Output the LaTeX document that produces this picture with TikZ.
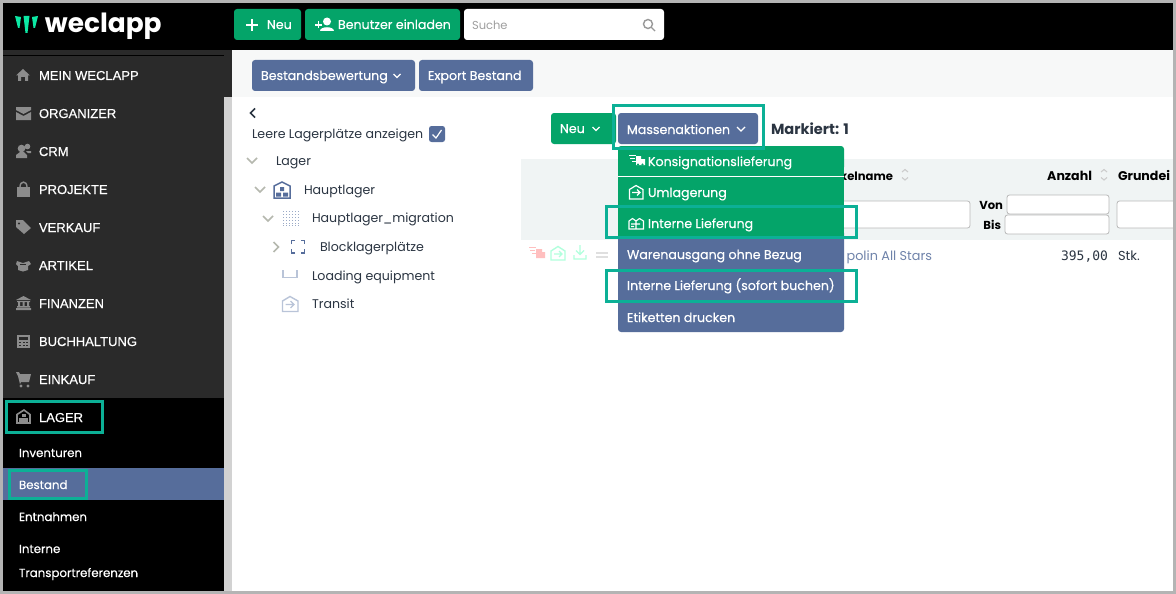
\documentclass[tikz,border=0pt]{standalone}
\usepackage{fontspec}
\setmainfont{Poppins}
\newfontfamily\uif[FakeBold=0.5]{Poppins}
\newfontfamily\capsf[FakeBold=0.35]{Liberation Sans}
\newfontfamily\logof{Poppins}
\newfontfamily\numf{DejaVu Sans Mono}
\definecolor{frame}{HTML}{B4B4B4}
\definecolor{side}{HTML}{2A2A2A}
\definecolor{wgreen}{HTML}{04A469}
\definecolor{wblue}{HTML}{566D9B}
\definecolor{hilite}{HTML}{0CB096}
\definecolor{scrollc}{HTML}{D2D2D2}
\definecolor{panel}{HTML}{F7F8F8}
\definecolor{thead}{HTML}{F0F4F4}
\definecolor{ink}{HTML}{2B3542}
\definecolor{sico}{HTML}{8C8C8C}
\definecolor{tico}{HTML}{B9C4D8}
\definecolor{chev}{HTML}{B5B8AE}
\definecolor{logoc}{HTML}{0CE8A4}
\tikzset{
  x=1pt,y=-1pt,
  txt/.style={inner sep=0pt,outer sep=0pt,anchor=base west},
  rtxt/.style={inner sep=0pt,outer sep=0pt,anchor=base east},
  capt/.style={txt,text=white,font=\capsf\fontsize{13}{13}\selectfont},
  subt/.style={txt,text=white,font=\uif\fontsize{11.8}{12}\selectfont},
  btnt/.style={txt,text=white,font=\uif\fontsize{12.6}{13}\selectfont},
  menut/.style={txt,text=white,font=\uif\fontsize{12.6}{13}\selectfont},
  treet/.style={txt,text=ink,font=\fontsize{12.6}{13}\selectfont},
  headt/.style={text=black,font=\bfseries\fontsize{12.6}{13}\selectfont},
  vbt/.style={text=black,font=\bfseries\fontsize{11.6}{13}\selectfont},
  box/.style={draw=hilite,line width=3pt},
  inp/.style={draw=gray!55,fill=white,line width=.8pt,rounded corners=2.5pt},
  chv/.style={draw=chev,line width=1.6pt},
  wchv/.style={draw=white,line width=1.4pt},
  tic/.style={draw=tico,line width=1.4pt},
  sicon/.style={fill=sico},
}
\begin{document}
\begin{tikzpicture}
\useasboundingbox (0,0) rectangle (1176,594);
\fill[white] (0,0) rectangle (1176,594);
% content panels
\fill[panel] (232,50) rectangle (1173,97);
\fill[thead] (521,159) rectangle (1173,240);
% top bar
\fill[black] (3,3) rectangle (1173,50);
% side
\fill[side] (3,50) rectangle (232,97);
\fill[side] (3,97) rectangle (224,398);
\fill[black] (3,55) rectangle (224,56);
\fill[black] (3,398) rectangle (224,591);
\fill[scrollc] (224,97) rectangle (232,591);
\fill[wblue] (3,468) rectangle (224,500);
% logo
\fill[logoc] (15,16) -- (21,17) -- (19.5,28) -- (18,28) -- cycle;
\fill[logoc] (23.5,16) -- (29.5,16) -- (27.5,33) -- (25.5,33) -- cycle;
\fill[logoc] (32,17) -- (38,16) -- (35,28) -- (33.5,28) -- cycle;
\node[txt,text=white,font=\logof\bfseries\fontsize{26.4}{26}\selectfont] (logo) at (45,33) {weclapp};
% top buttons
\fill[wgreen,rounded corners=3pt] (234,9) rectangle (301,40);
\draw[white,line width=1.6pt] (246,25) -- (258,25) (252,19) -- (252,31);
\node[btnt] (tneu) at (267,29) {Neu};
\fill[wgreen,rounded corners=3pt] (305,9) rectangle (460,40);
\draw[white,line width=1.2pt] (315,25) -- (322,25) (318.5,21.5) -- (318.5,28.5);
\fill[white] (327,21.5) circle (4);
\fill[white] (320,31) .. controls (320,26) and (334,26) .. (334,31) -- cycle;
\node[btnt] (tben) at (338,29) {Benutzer einladen};
\fill[white,rounded corners=3pt] (464,9) rectangle (664,40);
\node[txt,text=gray!75,font=\fontsize{11.5}{12}\selectfont] (such) at (472,30) {Suche};
\draw[gray!80,line width=1.4pt] (648,24) circle (4.5) (651.5,27.5) -- (655,31);
% panel buttons
\fill[wblue,rounded corners=3pt] (252,60) rectangle (415,91);
\node[btnt] (tbew) at (261,80) {Bestandsbewertung};
\draw[wchv] (393.5,74) -- (397,77.5) -- (400.5,74);
\fill[wblue,rounded corners=3pt] (419,60) rectangle (533,91);
\node[btnt] (texp) at (428,80) {Export Bestand};
% sidebar labels
\node[capt] (c1) at (39,80) {MEIN WECLAPP};
\node[capt] (c2) at (39,118) {ORGANIZER};
\node[capt] (c3) at (39,156) {CRM};
\node[capt] (c4) at (39,194) {PROJEKTE};
\node[capt] (c5) at (39,232) {VERKAUF};
\node[capt] (c6) at (39,270) {ARTIKEL};
\node[capt] (c7) at (39,308) {FINANZEN};
\node[capt] (c8) at (39,346) {BUCHHALTUNG};
\node[capt] (c9) at (39,384) {EINKAUF};
\node[capt] (c10) at (39,422) {LAGER};
\node[subt] (s1) at (19,457) {Inventuren};
\node[subt] (s2) at (19,489) {Bestand};
\node[subt] (s3) at (19,521) {Entnahmen};
\node[subt] (s4) at (19,553) {Interne};
\node[subt] (s5) at (19,577) {Transportreferenzen};
% sidebar icons
\fill[sico] (16,75.5) -- (23,69) -- (30,75.5) -- (28,75.5) -- (28,81) -- (25,81) -- (25,77) -- (21,77) -- (21,81) -- (18,81) -- (18,75.5) -- cycle;
\fill[sico] (16,107) -- (31,107) -- (31,110) -- (23.5,114) -- (16,110) -- cycle (16,112) -- (23.5,116) -- (31,112) -- (31,120) -- (16,120) -- cycle;
\fill[sico] (21.5,148.5) circle (3.8) (27.5,146.5) circle (2.8);
\fill[sico] (16,158) -- (16,155) -- (20,152) -- (24,152) -- (27,155) -- (27,158) -- cycle (26,151) -- (31,151) -- (31,153) -- (28,153) -- cycle;
\fill[sico] (17,186.5) rectangle (30,197);
\draw[sico,line width=1.4pt] (20,187) .. controls (20,180.5) and (27,180.5) .. (27,187);
\fill[sico] (16,220) -- (23,220) -- (31,228) -- (24,234) -- (16,227) -- cycle;
\fill[side] (19,223.5) circle (1.1);
\fill[sico] (17,261) -- (23,263) -- (29,261) -- (31,264) -- (28,266) -- (28,270) -- (23,271.5) -- (18,270) -- (18,266) -- (16,264) -- cycle;
\fill[side] (20,264) rectangle (26,265);
\fill[sico] (23.5,296) -- (31,300) -- (16,300) -- cycle (16,308) rectangle (31,310) (17,301) rectangle (30,302) (17,306) rectangle (30,307.5);
\fill[sico] (18,302) rectangle (20,306) (22.5,302) rectangle (24.5,306) (27,302) rectangle (29,306);
\fill[sico] (17,335) rectangle (30,348);
\fill[side] (19,337) rectangle (28,339.5);
\foreach \cx in {19,22.5,26}{\foreach \cy in {341.5,344.5}{\fill[side] (\cx,\cy) rectangle +(2,1.5);}}
\fill[sico] (16,372) -- (19,372) -- (20,374) -- (31,374) -- (29,382) -- (21,382) -- (20,384) -- (18,376) -- cycle;
\fill[sico] (21,386) circle (1.7) (28,386) circle (1.7);
\draw[sico,line width=1.6pt] (17,423) -- (17,414.5) -- (24,410) -- (30,414.5) -- (30,423) -- cycle;
\fill[sico] (19,418) rectangle (28,423);
\fill[sico] (22,413.5) rectangle (26,416.5);
% tree
\draw[draw=ink,line width=1.7pt] (255,108.5) -- (250.5,113) -- (255,117.5);
\node[treet] (leer) at (252,139) {Leere Lagerplätze anzeigen};
\fill[wblue,rounded corners=2.5pt] (429,126) rectangle (445,142);
\draw[white,line width=1.2pt] (432.5,134.5) -- (436,138) -- (441.5,130);
\draw[chv] (247,158) -- (252,163) -- (257,158);
\node[treet] (l0) at (276,165) {Lager};
\draw[chv] (255,187) -- (260,192) -- (265,187);
\draw[wblue,line width=1.5pt,fill=white] (274,198) -- (274,186) -- (282,182) -- (290,186) -- (290,198) -- cycle;
\fill[wblue] (280,187) rectangle (284,191) (276,192.5) rectangle (281,196.5) (283,192.5) rectangle (288,196.5);
\node[treet] (l1) at (304,194) {Hauptlager};
\draw[chv] (263,216) -- (268,221) -- (273,216);
\foreach \dx in {283,286,289,292,295,298}{\foreach \dy in {211,214,217,220,223,225}{\fill[tico!70!wblue] (\dx,\dy) rectangle +(1.4,1.4);}}
\node[treet] (l2) at (312,222) {Hauptlager\_migration};
\draw[chv] (273.5,242) -- (278.5,247) -- (273.5,252);
\draw[wblue,line width=1.5pt] (291.5,244) -- (291.5,240.5) -- (295,240.5) (301,240.5) -- (304.5,240.5) -- (304.5,244) (304.5,249) -- (304.5,253) -- (301,253) (295,253) -- (291.5,253) -- (291.5,249);
\node[treet] (l3) at (320,251) {Blocklagerplätze};
\draw[tic] (283,270) -- (283,277.5) -- (297,277.5) -- (297,270);
\node[treet] (l4) at (312,280) {Loading equipment};
\draw[tic] (282.5,311.5) -- (282.5,301) -- (290,296.5) -- (298,301) -- (298,311.5) -- cycle;
\draw[tic] (285.5,304.5) -- (294,304.5) (290.5,301) -- (294,304.5) -- (290.5,308);
\node[treet] (l5) at (312,308) {Transit};
% table header
\node[rtxt,text=black,font=\bfseries\fontsize{11.6}{13}\selectfont] (th1) at (893,180) {kelname};
\draw[gray!40,line width=1.1pt] (902,172) -- (905,169.5) -- (908,172) (902,177.5) -- (905,180) -- (908,177.5);
\node[headt,rtxt] (th2) at (1092,180) {Anzahl};
\draw[gray!40,line width=1.1pt] (1101,172) -- (1104,169.5) -- (1107,172) (1101,177.5) -- (1104,180) -- (1107,177.5);
\node[headt,txt] (th3) at (1118,180) {Grundei};
\begin{scope}
\clip (1000,150) rectangle (1173,260);
\draw[inp] (1117,201) rectangle (1190,228);
\end{scope}
\draw[inp] (800,201) rectangle (970,228);
\draw[inp] (1007,195) rectangle (1109,214);
\draw[inp] (1005,215) rectangle (1109,234);
\node[vbt,rtxt] (von) at (1003,209) {Von};
\node[vbt,rtxt] (bis) at (1001,229) {Bis};
% row
\node[rtxt,text=wblue!85,font=\fontsize{12.8}{13}\selectfont] (rn) at (932,260) {polin All Stars};
\node[rtxt,text=ink,font=\numf\fontsize{13}{13}\selectfont] (rq) at (1108,260) {395,00};
\node[txt,text=ink,font=\fontsize{13}{13}\selectfont] (ru) at (1118,260) {Stk.};
% row icons
\draw[red!25,line width=1pt] (529,247) -- (536,247) (530,250) -- (535,250) (532,253) -- (536,253);
\fill[red!25] (536,249) rectangle (542,258) (542,252) -- (545,252) -- (545,258) -- (542,258) -- cycle;
\draw[green!45!cyan!30,line width=1.4pt] (551,260) -- (551,251) -- (558,246.5) -- (565,251) -- (565,260) -- cycle (554,254) -- (562,254) (559,251) -- (562,254) -- (559,257);
\draw[green!45!cyan!30,line width=1.4pt] (580,245) -- (580,254) (576,250.5) -- (580,254.5) -- (584,250.5) (574,255) -- (574,259) -- (586,259) -- (586,255);
\draw[gray!25,line width=1.2pt] (596,253) -- (608,253) (596,257) -- (608,257);
% Neu / Massen
\fill[wgreen,rounded corners=3pt] (551,113) rectangle (616,144);
\node[btnt] (tn2) at (560,133) {Neu};
\draw[wchv] (592.5,127) -- (596,130.5) -- (599.5,127);
\fill[wblue,rounded corners=3pt] (618,113) rectangle (758,144);
\node[btnt] (tmas) at (627,134) {Massenaktionen};
\draw[wchv] (737,127) -- (741,131) -- (745,127);
\node[txt,text=ink,font=\bfseries\fontsize{14.6}{15}\selectfont] (mark) at (771,134) {Markiert: 1};
% menu
\fill[wblue,rounded corners=3pt] (618,230) rectangle (844,332);
\fill[wgreen,rounded corners=3pt] (618,146) rectangle (844,170);
\fill[wgreen] (618,155) rectangle (844,238);
\fill[white] (618,176) rectangle (844,177);
\node[menut] (m1) at (648,166) {Konsignationslieferung};
\node[menut] (m2) at (648,197) {Umlagerung};
\node[menut] (m3) at (648,228) {Interne Lieferung};
\node[menut] (m4) at (627,259) {Warenausgang ohne Bezug};
\node[menut] (m5) at (627,290) {Interne Lieferung (sofort buchen)};
\node[menut] (m6) at (627,322) {Etiketten drucken};
% menu icons
\draw[white,line width=.9pt] (629,155) -- (636,155) (630,158) -- (635,158) (632,161) -- (636,161);
\fill[white] (636,156) rectangle (641,165) (641,159) rectangle (645,165);
\fill[wgreen] (638,164.5) circle (1.2) (642.5,164.5) circle (1.2);
\draw[white,line width=1.2pt] (629.5,199) -- (629.5,189.5) -- (636,185.5) -- (643,189.5) -- (643,199) -- cycle (632,192.5) -- (640,192.5) (637,189.5) -- (640,192.5) -- (637,195.5);
\draw[white,line width=1.1pt] (629,229) -- (629,221) -- (632.5,218.5) -- (636,221) -- (636,229) -- cycle (636,221) -- (639.5,218.5) -- (643.5,221) -- (643.5,229) -- (636,229) (631,224) -- (640,224) (631,226.5) -- (634,226.5);
% highlight boxes
\draw[box] (613.5,105.5) rectangle (763.5,148);
\draw[box] (606.5,206.5) rectangle (856.5,237.5);
\draw[box] (606.5,270.5) rectangle (856.5,301.5);
\draw[box] (6.5,401.5) rectangle (102.5,432.5);
\draw[box] (9.5,470.5) rectangle (86.5,498.5);
% outer frame
\draw[frame,line width=3pt] (1.5,1.5) rectangle (1174.5,592.5);
\end{tikzpicture}
\end{document}
